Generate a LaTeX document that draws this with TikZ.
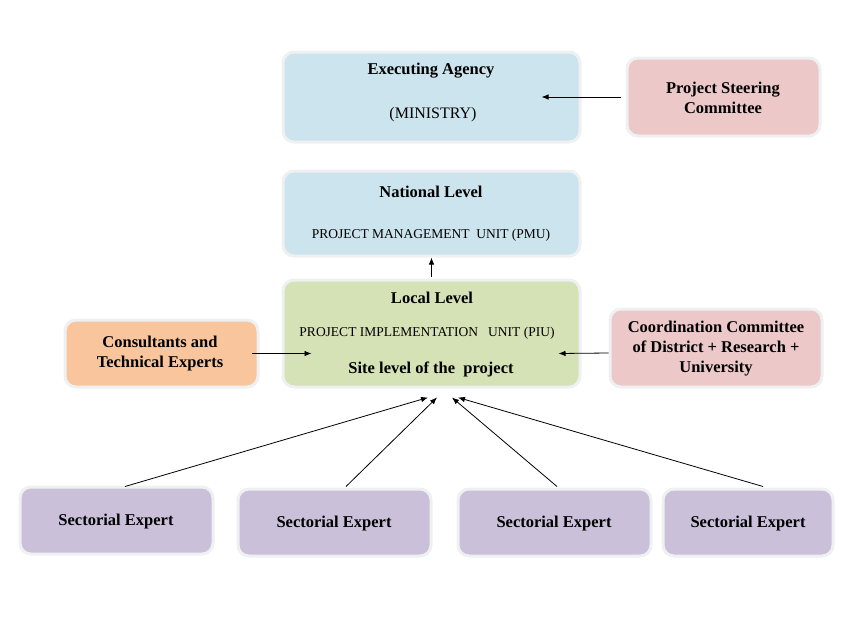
\documentclass[tikz,border=0pt]{standalone}
\usepackage{fontspec}
\setmainfont{Liberation Serif}
\usetikzlibrary{arrows.meta,calc}
\definecolor{cblue}{HTML}{CCE4ED}
\definecolor{cpink}{HTML}{ECC8C9}
\definecolor{cgreen}{HTML}{D5E2B6}
\definecolor{corange}{HTML}{F9C59D}
\definecolor{cpurple}{HTML}{CBC0DA}
\definecolor{cborder}{HTML}{EEF0F1}
\tikzset{
  box/.style={draw=cborder, line width=3pt, rounded corners=11pt, inner sep=0pt},
  bt/.style={font=\fontsize{16.5}{20}\selectfont\bfseries, align=center, inner sep=0pt},
  rt/.style={font=\fontsize{13.5}{16}\selectfont, align=center, inner sep=0pt},
  mt/.style={font=\fontsize{16}{19}\selectfont, align=center, inner sep=0pt},
  arr/.style={-{Latex[length=7pt,width=5.5pt]}, line width=0.8pt, black},
}
\begin{document}
\begin{tikzpicture}[x=1pt,y=-1pt]
\useasboundingbox (0,0) rectangle (850,637);
% boxes
\node[box, fill=cblue, minimum width=297, minimum height=90] (ea) at (431.5,97) {};
\node[box, fill=cpink, minimum width=193, minimum height=78] (psc) at (723.5,97) {};
\node[box, fill=cblue, minimum width=297, minimum height=85] (nl) at (431.5,213.5) {};
\node[box, fill=cgreen, minimum width=297, minimum height=107] (ll) at (431.5,333.5) {};
\node[box, fill=corange, minimum width=193, minimum height=67] (ce) at (161.5,353.5) {};
\node[box, fill=cpink, minimum width=212, minimum height=78] (cc) at (716,348) {};
\node[box, fill=cpurple, minimum width=193, minimum height=67] (se1) at (116.5,520.5) {};
\node[box, fill=cpurple, minimum width=193, minimum height=67] (se2) at (334.5,522.5) {};
\node[box, fill=cpurple, minimum width=193, minimum height=67] (se3) at (554.5,522.5) {};
\node[box, fill=cpurple, minimum width=170, minimum height=67] (se4) at (748,522.5) {};
% texts
\node[bt] (ea1) at (431,71) {Executing Agency};
\node[mt] (ea2) at (433,115) {(MINISTRY)};
\node[bt] (psct) at (723,98) {Project Steering\\Committee};
\node[bt] (nl1) at (431,192) {National Level};
\node[rt] (nl2) at (431,235) {PROJECT MANAGEMENT\ \ UNIT (PMU)};
\node[rt] (ll2) at (427,333) {PROJECT IMPLEMENTATION\ \ \ UNIT (PIU)};
\node[bt] (ll1) at (432,298) {Local Level};
\node[bt] (ll3) at (431,369) {Site level of the\ \ project};
\node[bt] (cet) at (160,353.5) {Consultants and\\Technical Experts};
\node[bt] (cct) at (716,349) {Coordination Committee\\of District + Research +\\University};
\node[bt] (se1t) at (116,522) {Sectorial Expert};
\node[bt] (se2t) at (334,524) {Sectorial Expert};
\node[bt] (se3t) at (554,524) {Sectorial Expert};
\node[bt] (se4t) at (748,524) {Sectorial Expert};
% arrows
\draw[arr] ($(psc.west)+(-5,0)$) -- ($(ea.east)+(-40,0)$);
\draw[arr] ($(ll.north)+(0,-2)$) -- (nl.south);
\draw[arr] ($(ce.east)+(-8,0)$) -- ($(ce.east)+(52,0)$);
\draw[arr] ($(cc.west)+(0,5)$) -- ($(ll.east)+(-23,20)$);
\draw[arr] ($(se1.north)+(8.5,1)$) -- ($(ll.south)+(-3.5,9)$);
\draw[arr] ($(se2.north)+(11.5,-1)$) -- ($(ll.south)+(5.5,9)$);
\draw[arr] ($(se3.north)+(2.5,-1)$) -- ($(ll.south)+(20.5,9)$);
\draw[arr] ($(se4.north)+(15,-1)$) -- ($(ll.south)+(26.5,9)$);
\end{tikzpicture}
\end{document}
